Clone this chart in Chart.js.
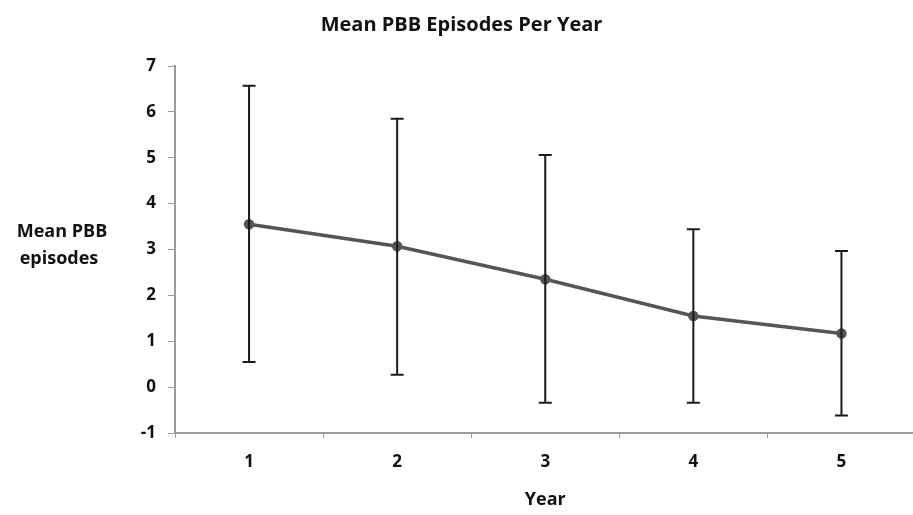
<!DOCTYPE html>
<html>
<head>
<meta charset="utf-8">
<script src="https://cdn.jsdelivr.net/npm/chart.js@4.4.0/dist/chart.umd.min.js"></script>
<style>
    html, body { margin: 0; padding: 0; background: #fff; overflow: hidden; }
    #wrap { width: 923px; height: 515px; }
</style>
</head>
<body>
<div id="wrap"><canvas id="pbbChart" width="923" height="515"></canvas></div>
<script>
const years = ['1', '2', '3', '4', '5'];
const meanEpisodes = [3.55, 3.07, 2.35, 1.55, 1.17];
const upperBar = [6.57, 5.85, 5.06, 3.44, 2.97];
const lowerBar = [0.55, 0.27, -0.34, -0.34, -0.62];
const yTicks = [-1, 0, 1, 2, 3, 4, 5, 6, 7];

const fontFamily = '"Open Sans", "Liberation Sans", sans-serif';
const axisGray = '#9a9a9a';

// Error bars (black whiskers with caps)
const errorBars = {
    id: 'errorBars',
    afterDatasetsDraw(chart) {
        const { ctx, scales: { x, y } } = chart;
        ctx.save();
        ctx.strokeStyle = '#1a1a1a';
        ctx.lineWidth = 2;
        years.forEach((yr, i) => {
            const px = x.getPixelForValue(i);
            const top = y.getPixelForValue(upperBar[i]);
            const bot = y.getPixelForValue(lowerBar[i]);
            ctx.beginPath();
            ctx.moveTo(px, top);
            ctx.lineTo(px, bot);
            ctx.moveTo(px - 6.5, top);
            ctx.lineTo(px + 6.5, top);
            ctx.moveTo(px - 6.5, bot);
            ctx.lineTo(px + 6.5, bot);
            ctx.stroke();
        });
        ctx.restore();
    }
};

// Horizontal y-axis title on two lines, left of the ticks
const sideTitle = {
    id: 'sideTitle',
    afterDraw(chart) {
        const { ctx } = chart;
        ctx.save();
        ctx.fillStyle = '#111';
        ctx.font = 'bold 18px ' + fontFamily;
        ctx.textAlign = 'center';
        ctx.textBaseline = 'middle';
        ctx.fillText('Mean PBB', 62, 232);
        ctx.fillText('episodes', 59, 259);
        ctx.restore();
    }
};

new Chart(document.getElementById('pbbChart'), {
    type: 'line',
    data: {
        labels: years,
        datasets: [{
            label: 'Mean PBB episodes',
            data: meanEpisodes,
            borderColor: '#555555',
            borderWidth: 3.5,
            pointRadius: 3.5,
            pointBackgroundColor: '#555555',
            pointBorderColor: '#555555',
            tension: 0
        }]
    },
    options: {
        responsive: false,
        animation: false,
        layout: { padding: { left: 0, right: 0, top: 0, bottom: 0 } },
        plugins: {
            legend: { display: false },
            tooltip: { enabled: false },
            title: {
                display: true,
                text: 'Mean PBB Episodes Per Year',
                color: '#111',
                font: { family: fontFamily, size: 20, weight: 'bold' },
                padding: { top: 13, bottom: 29 }
            }
        },
        scales: {
            x: {
                type: 'category',
                offset: true,
                border: { color: axisGray, width: 2 },
                grid: { display: true, drawOnChartArea: false, drawTicks: true, tickLength: 5, color: axisGray, offset: true },
                ticks: { color: '#111', font: { family: fontFamily, size: 17, weight: 'bold' }, padding: 14 },
                title: {
                    display: true,
                    text: 'Year',
                    color: '#111',
                    font: { family: fontFamily, size: 18, weight: 'bold' },
                    padding: { top: 10, bottom: 4 }
                },
                afterFit(scale) { scale.height = 82; }
            },
            y: {
                min: -1,
                max: 7,
                border: { color: axisGray, width: 2 },
                grid: { display: true, drawOnChartArea: false, drawTicks: true, tickLength: 7, color: axisGray },
                afterBuildTicks(scale) { scale.ticks = yTicks.map(v => ({ value: v })); },
                ticks: { color: '#111', font: { family: fontFamily, size: 17, weight: 'bold' }, padding: 12 },
                afterFit(scale) { scale.width = 175; }
            }
        }
    },
    plugins: [errorBars, sideTitle]
});
</script>
</body>
</html>
